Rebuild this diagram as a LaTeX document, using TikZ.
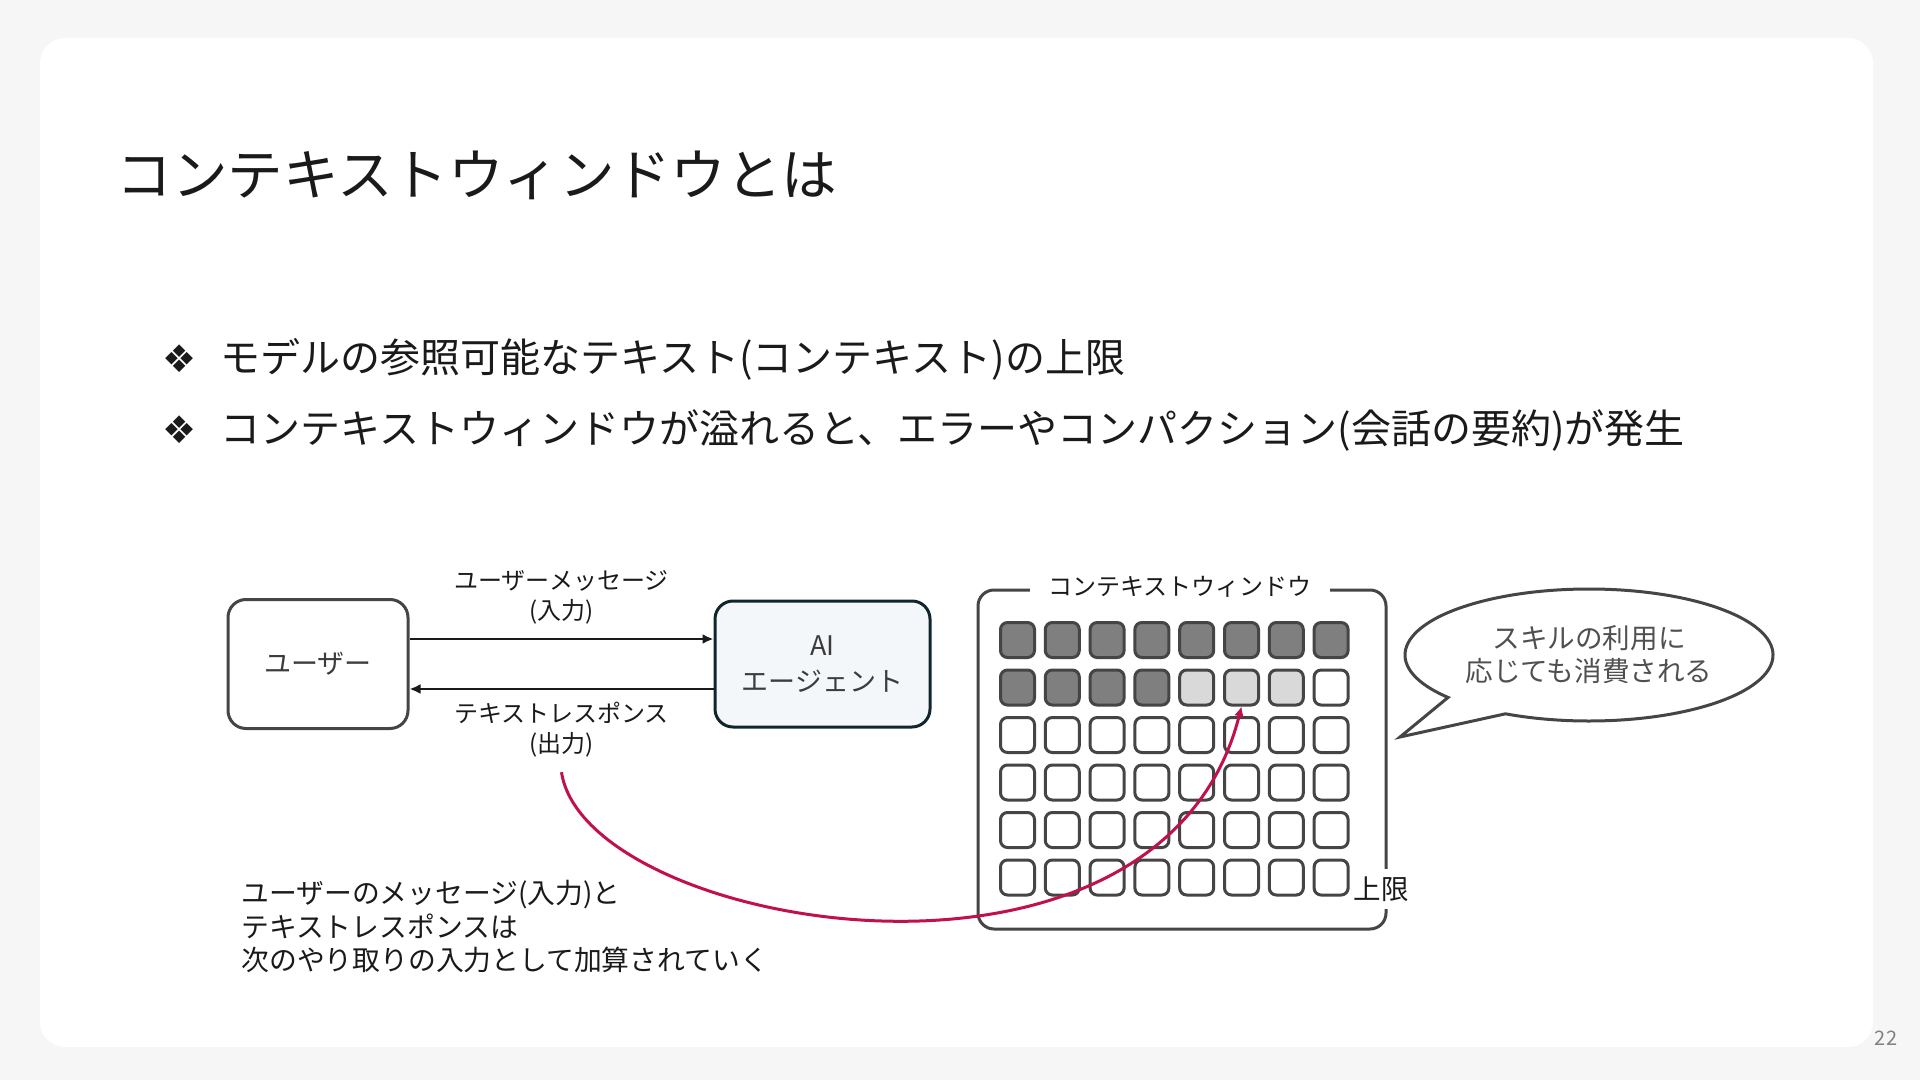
\documentclass[tikz,border=0pt]{standalone}
\usepackage{fontspec}
\setmainfont{Noto Sans CJK JP}
\newfontfamily\dingfont{DejaVu Sans}
\usepackage{xcolor}
\usetikzlibrary{arrows.meta, positioning}
\definecolor{pagebg}{HTML}{F6F6F6}
\definecolor{ink}{HTML}{1A1A1A}
\definecolor{edge}{HTML}{454545}
\definecolor{agentedge}{HTML}{10262E}
\definecolor{agentfill}{HTML}{F4F7F9}
\definecolor{usedtok}{HTML}{7F7F7F}
\definecolor{skilltok}{HTML}{D9D9D9}
\definecolor{flowred}{HTML}{C0114B}
\definecolor{softtext}{HTML}{505050}

\begin{document}
\begin{tikzpicture}[
    x=0.5pt, y=-0.5pt,
    actor/.style={rectangle, draw=edge, line width=1.5pt, rounded corners=9pt,
                  minimum width=90pt, minimum height=64.5pt, fill=white,
                  font=\fontsize{13.5}{16.5}\selectfont, text=ink!85, align=center},
    agentbox/.style={actor, draw=agentedge, fill=agentfill, minimum width=107.5pt,
                  minimum height=63pt},
    cell/.style={rectangle, draw=edge, line width=1.5pt, rounded corners=3.5pt,
                 minimum width=17pt, minimum height=17.5pt, inner sep=0, fill=white},
    tag/.style={font=\fontsize{12}{14.8}\selectfont, text=ink, align=center, inner sep=0},
    flow/.style={-{Latex[length=5.5pt, width=5pt]}, line width=1.25pt, draw=ink},
]
% page and card
\fill[pagebg] (0,0) rectangle (1920,1080);
\fill[white, rounded corners=12.5pt] (40,38) rectangle (1873,1047);
\useasboundingbox (0,0) rectangle (1920,1080);

% title and bullets
\node[anchor=west, inner sep=0, text=ink, font=\fontsize{27.8}{33}\selectfont] (title) at (116,175) {コンテキストウィンドウとは};
\node[inner sep=0, text=ink, font=\dingfont\fontsize{19}{22}\selectfont] (b1) at (180,359) {❖};
\node[anchor=west, inner sep=0, text=ink, font=\fontsize{20}{24}\selectfont] (t1) at (220,359) {モデルの参照可能なテキスト(コンテキスト)の上限};
\node[inner sep=0, text=ink, font=\dingfont\fontsize{19}{22}\selectfont] (b2) at (180,430) {❖};
\node[anchor=west, inner sep=0, text=ink, font=\fontsize{20}{24}\selectfont] (t2) at (220,430) {コンテキストウィンドウが溢れると、エラーやコンパクション(会話の要約)が発生};

% user and agent
\node[actor] (user) at (318,664) {ユーザー};
\node[agentbox, right=152pt of user] (agent) {AI\\[1.5pt]エージェント};

% request / response arrows
\coordinate (req) at ([yshift=12.5pt]user.east);
\coordinate (res) at ([yshift=-12.5pt]user.east);
\draw[flow] (req) -- (req -| agent.west) node[midway, above=7pt, tag] (inlbl) {ユーザーメッセージ\\(入力)};
\draw[flow] (res -| agent.west) -- (res) node[midway, below=6pt, tag] (outlbl) {テキストレスポンス\\(出力)};

% context window frame
\draw[edge, line width=1.5pt, rounded corners=8pt] (978,590) rectangle (1386,929);
\node[tag, fill=white, inner xsep=9pt, inner ysep=2pt] (cwlbl) at (1180,587) {コンテキストウィンドウ};
\node[fill=white, inner xsep=2pt, inner ysep=4pt, text=ink, font=\fontsize{13.75}{16}\selectfont] (limit) at (1381,889) {上限};

% tokens
\foreach \c in {0,...,7}
    \node[cell, fill=usedtok] (c-\c-0) at ({1017.5+44.8*\c},640) {};
\foreach \c in {0,...,3}
    \node[cell, fill=usedtok] (c-\c-1) at ({1017.5+44.8*\c},687.5) {};
\foreach \c in {4,5,6}
    \node[cell, fill=skilltok] (c-\c-1) at ({1017.5+44.8*\c},687.5) {};
\node[cell] (c-7-1) at ({1017.5+44.8*7},687.5) {};
\foreach \r in {2,...,5}
    \foreach \c in {0,...,7}
        \node[cell] (c-\c-\r) at ({1017.5+44.8*\c},{640+47.5*\r}) {};

% speech bubble
\node[text=softtext, align=center, inner sep=0, font=\fontsize{13.8}{16.5}\selectfont] (bub) at (1589,655) {スキルの利用に\\応じても消費される};
\coordinate (tailtip) at (1400,737);
\draw[edge, line width=1.5pt, line join=miter] ([shift={(140:184 and 66)}]bub.center)
    arc[start angle=140, end angle=477, x radius=184, y radius=66] -- (tailtip) -- cycle;

% output goes back into the window
\coordinate (ret) at ([yshift=-7pt]outlbl.south);
\draw[-{Latex[length=5pt, width=5pt]}, line width=1.5pt, draw=flowred]
    (ret) .. controls (585,930) and (1160,1030) .. (c-5-1.south);

\node[anchor=west, align=left, inner sep=0, text=ink, font=\fontsize{13.9}{16.75}\selectfont] (note) at (241,927) {ユーザーのメッセージ(入力)と\\テキストレスポンスは\\次のやり取りの入力として加算されていく};

% page number
\node[text=ink!55, inner sep=0, font=\fontsize{10}{12}\selectfont] (pageno) at (1886,1038) {22};
\end{tikzpicture}
\end{document}
